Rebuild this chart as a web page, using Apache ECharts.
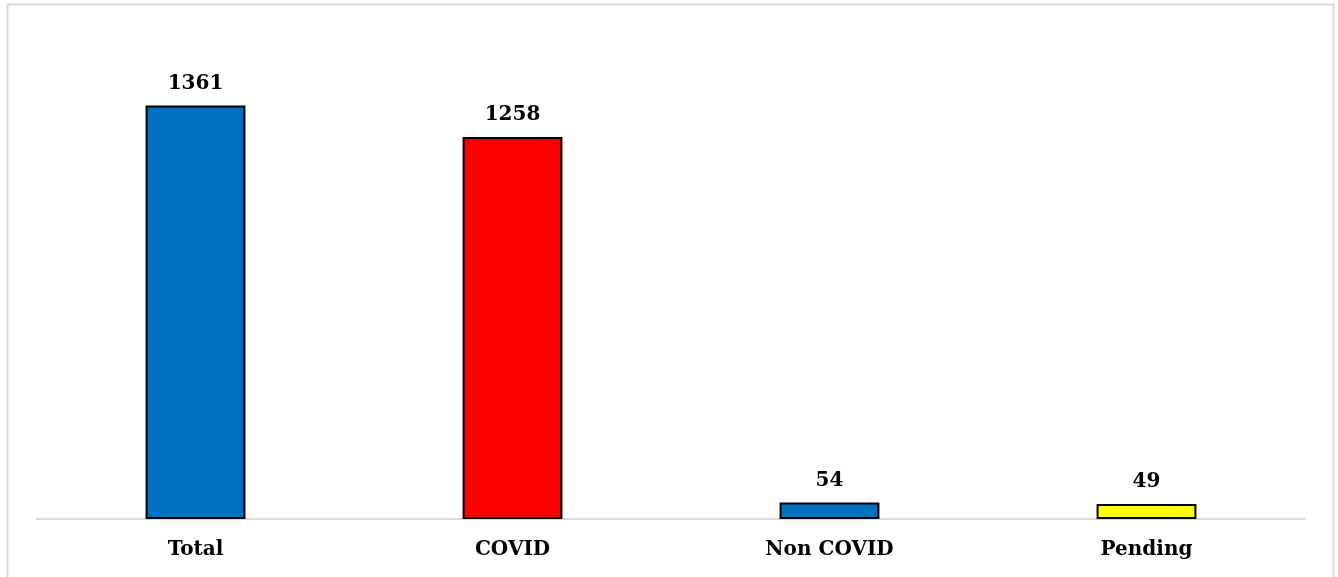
<!DOCTYPE html>
<html>
<head>
<meta charset="utf-8">
<script src="https://cdn.jsdelivr.net/npm/echarts@6/dist/echarts.min.js"></script>
<style>
  html, body { margin: 0; padding: 0; background: #ffffff; }
  #chart { width: 1338px; height: 577px; }
</style>
</head>
<body>
<div id="chart"></div>
<script>
// Case counts by category
const categories = ['Total', 'COVID', 'Non COVID', 'Pending'];
const counts = [1361, 1258, 54, 49];
const barColors = ['#0070C0', '#FF0000', '#0070C0', '#FFFF00'];

const chart = echarts.init(document.getElementById('chart'), null, { renderer: 'canvas' });

const labelFont = {
  fontFamily: 'DejaVu Serif',
  fontWeight: 'bold',
  fontSize: 20,
  color: '#000000'
};

chart.setOption({
  animation: false,
  backgroundColor: '#ffffff',
  graphic: [{
    type: 'rect',
    shape: { x: 7.5, y: 4.5, width: 1326, height: 600 },
    style: { fill: 'none', stroke: '#d9d9d9', lineWidth: 2 },
    silent: true
  }],
  grid: { left: 37, right: 33, top: 33, bottom: 58 },
  xAxis: {
    type: 'category',
    data: categories,
    axisLine: { show: true, lineStyle: { color: '#d9d9d9', width: 2 } },
    axisTick: { show: false },
    axisLabel: Object.assign({ margin: 21 }, labelFont)
  },
  yAxis: {
    type: 'value',
    min: 0,
    max: 1600,
    show: false,
    splitLine: { show: false }
  },
  series: [{
    type: 'bar',
    barWidth: '31.5%',
    data: counts.map((v, i) => ({
      value: v,
      itemStyle: { color: barColors[i] }
    })),
    itemStyle: { borderColor: '#000000', borderWidth: 2 },
    label: Object.assign({ show: true, position: 'top', distance: 12 }, labelFont)
  }]
});
</script>
</body>
</html>
